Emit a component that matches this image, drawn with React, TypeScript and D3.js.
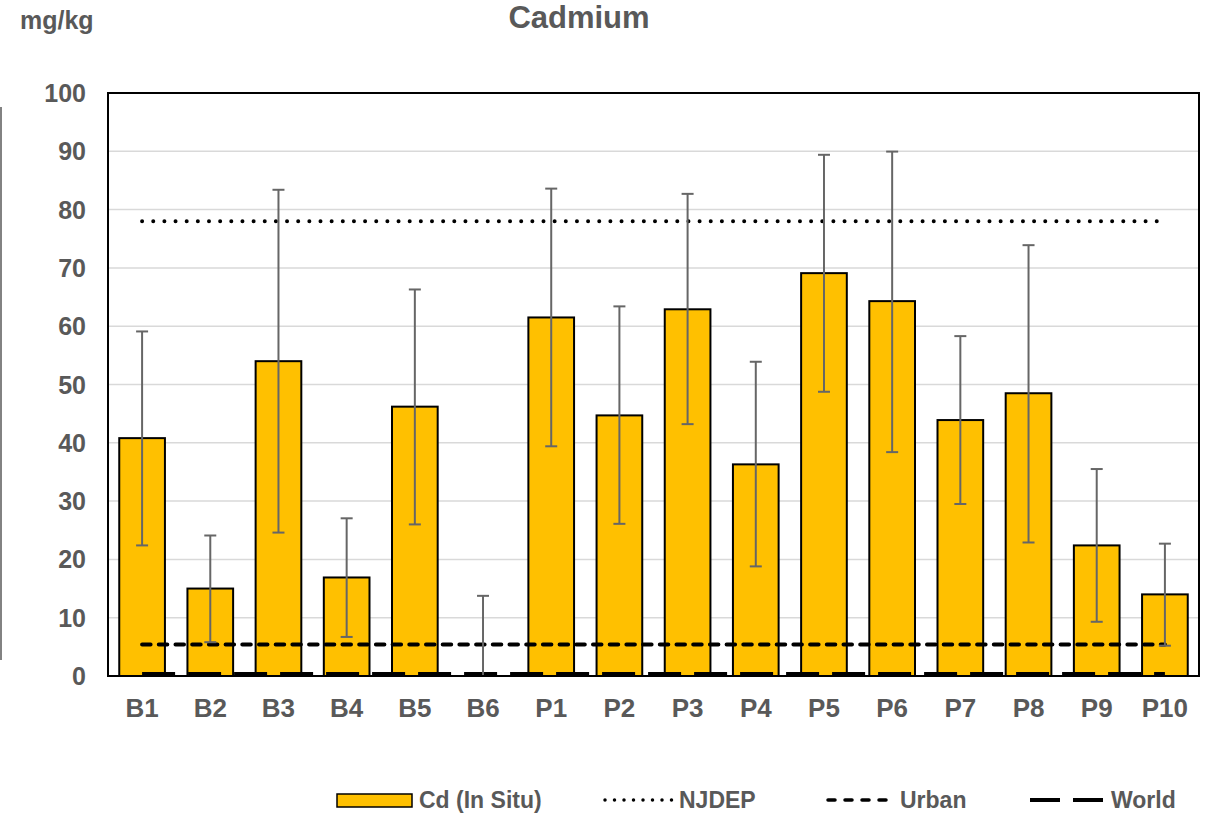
import { useEffect, useRef } from "react"
import * as d3 from "d3"

const sites = ["B1", "B2", "B3", "B4", "B5", "B6", "P1", "P2", "P3", "P4", "P5", "P6", "P7", "P8", "P9", "P10"]
const cdMean = [40.8, 15.0, 54.0, 16.9, 46.2, 0, 61.5, 44.7, 62.9, 36.3, 69.1, 64.3, 43.9, 48.5, 22.4, 14.0]
const cdHigh = [59.1, 24.1, 83.4, 27.05, 66.3, 13.75, 83.6, 63.4, 82.7, 53.9, 89.4, 89.95, 58.3, 73.9, 35.5, 22.7]
const cdLow = [22.4, 5.8, 24.6, 6.7, 26.0, 0, 39.4, 26.1, 43.2, 18.8, 48.75, 38.4, 29.5, 22.9, 9.3, 5.2]
const njdep = 78
const urban = 5.4
const world = 0.35
const yTicks = [0, 10, 20, 30, 40, 50, 60, 70, 80, 90, 100]

const W = 1212
const H = 813
const FONT = "'Liberation Sans', Arial, sans-serif"
const TEXT = "#595959"

export default function App() {
  const ref = useRef<SVGSVGElement>(null)

  useEffect(() => {
    if (!ref.current) return
    const svg = d3.select(ref.current)
    svg.selectAll("*").remove()

    const left = 108, right = 1199, top = 93, bottom = 676

    const x = d3.scaleBand<string>().domain(sites).range([left, right]).paddingInner(0.33).paddingOuter(0.165)
    const y = d3.scaleLinear().domain([0, 100]).range([bottom, top])
    const cx = (s: string) => (x(s) ?? 0) + x.bandwidth() / 2

    // gridlines
    svg.append("g")
      .selectAll("line")
      .data(yTicks.slice(1))
      .join("line")
      .attr("x1", left).attr("x2", right)
      .attr("y1", (d) => y(d)).attr("y2", (d) => y(d))
      .attr("stroke", "#d9d9d9").attr("stroke-width", 1.5)

    // bars
    svg.append("g")
      .selectAll("rect")
      .data(sites.map((s, i) => ({ s, v: cdMean[i] })).filter((d) => d.v > 0))
      .join("rect")
      .attr("x", (d) => x(d.s) ?? 0)
      .attr("width", x.bandwidth())
      .attr("y", (d) => y(d.v))
      .attr("height", (d) => y(0) - y(d.v))
      .attr("fill", "#ffc000")
      .attr("stroke", "#000").attr("stroke-width", 2)

    // reference lines
    const line = d3.line<string>().x((s) => cx(s))
    const addLine = (v: number, w: number, dash: string, cap: string) =>
      svg.append("path")
        .attr("d", line.y(() => y(v))(sites))
        .attr("fill", "none").attr("stroke", "#000")
        .attr("stroke-width", w).attr("stroke-dasharray", dash).attr("stroke-linecap", cap)
    addLine(njdep, 4, "0 11.15", "round")
    addLine(urban, 4, "8.5 8.2", "round")
    addLine(world, 4, "33 13", "butt")

    // error bars
    const eb = svg.append("g").attr("stroke", "#666").attr("stroke-width", 2)
    sites.forEach((s, i) => {
      const c = cx(s)
      eb.append("line").attr("x1", c).attr("x2", c).attr("y1", y(cdHigh[i])).attr("y2", y(cdLow[i]))
      eb.append("line").attr("x1", c - 6).attr("x2", c + 6).attr("y1", y(cdHigh[i])).attr("y2", y(cdHigh[i]))
      if (cdLow[i] > 0)
        eb.append("line").attr("x1", c - 6).attr("x2", c + 6).attr("y1", y(cdLow[i])).attr("y2", y(cdLow[i]))
    })

    // plot border
    svg.append("rect")
      .attr("x", left).attr("y", top).attr("width", right - left).attr("height", bottom - top)
      .attr("fill", "none").attr("stroke", "#000").attr("stroke-width", 2)

    // y tick labels
    svg.append("g")
      .selectAll("text")
      .data(yTicks)
      .join("text")
      .attr("x", 86).attr("y", (d) => y(d)).attr("dy", "0.36em")
      .attr("text-anchor", "end")
      .attr("font-family", FONT).attr("font-size", 25).attr("font-weight", 700).attr("fill", TEXT)
      .text((d) => d)

    // x labels
    svg.append("g")
      .selectAll("text")
      .data(sites)
      .join("text")
      .attr("x", (d) => cx(d)).attr("y", 717)
      .attr("text-anchor", "middle")
      .attr("font-family", FONT).attr("font-size", 26).attr("font-weight", 700).attr("fill", TEXT)
      .text((d) => d)

    // title and unit
    svg.append("text").attr("x", 579).attr("y", 28).attr("text-anchor", "middle")
      .attr("font-family", FONT).attr("font-size", 31).attr("font-weight", 700).attr("fill", TEXT)
      .text("Cadmium")
    svg.append("text").attr("x", 20).attr("y", 29)
      .attr("font-family", FONT).attr("font-size", 25).attr("font-weight", 700).attr("fill", TEXT)
      .text("mg/kg")

    // stray frame line on left edge
    svg.append("line").attr("x1", 1).attr("x2", 1).attr("y1", 107).attr("y2", 660)
      .attr("stroke", "#595959").attr("stroke-width", 1.5)

    // legend
    const ly = 800
    const lg = svg.append("g").attr("font-family", FONT).attr("font-size", 23).attr("font-weight", 700).attr("fill", TEXT)
    lg.append("rect").attr("x", 337).attr("y", ly - 6).attr("width", 75).attr("height", 13)
      .attr("fill", "#ffc000").attr("stroke", "#000").attr("stroke-width", 1.5)
    lg.append("text").attr("x", 419).attr("y", ly).attr("dy", "0.36em").text("Cd (In Situ)")
    lg.append("line").attr("x1", 605).attr("x2", 674).attr("y1", ly).attr("y2", ly)
      .attr("stroke", "#000").attr("stroke-width", 3.5).attr("stroke-dasharray", "0 9.5").attr("stroke-linecap", "round")
    lg.append("text").attr("x", 679).attr("y", ly).attr("dy", "0.36em").text("NJDEP")
    lg.append("line").attr("x1", 828).attr("x2", 896).attr("y1", ly).attr("y2", ly)
      .attr("stroke", "#000").attr("stroke-width", 3.5).attr("stroke-dasharray", "7 10").attr("stroke-linecap", "round")
    lg.append("text").attr("x", 900).attr("y", ly).attr("dy", "0.36em").text("Urban")
    lg.append("line").attr("x1", 1030).attr("x2", 1104).attr("y1", ly).attr("y2", ly)
      .attr("stroke", "#000").attr("stroke-width", 4).attr("stroke-dasharray", "30 13")
    lg.append("text").attr("x", 1111).attr("y", ly).attr("dy", "0.36em").text("World")
  }, [])

  return (
    <svg ref={ref} width={W} height={H} style={{ position: "absolute", left: 0, top: 0, background: "#fff" }} />
  )
}
